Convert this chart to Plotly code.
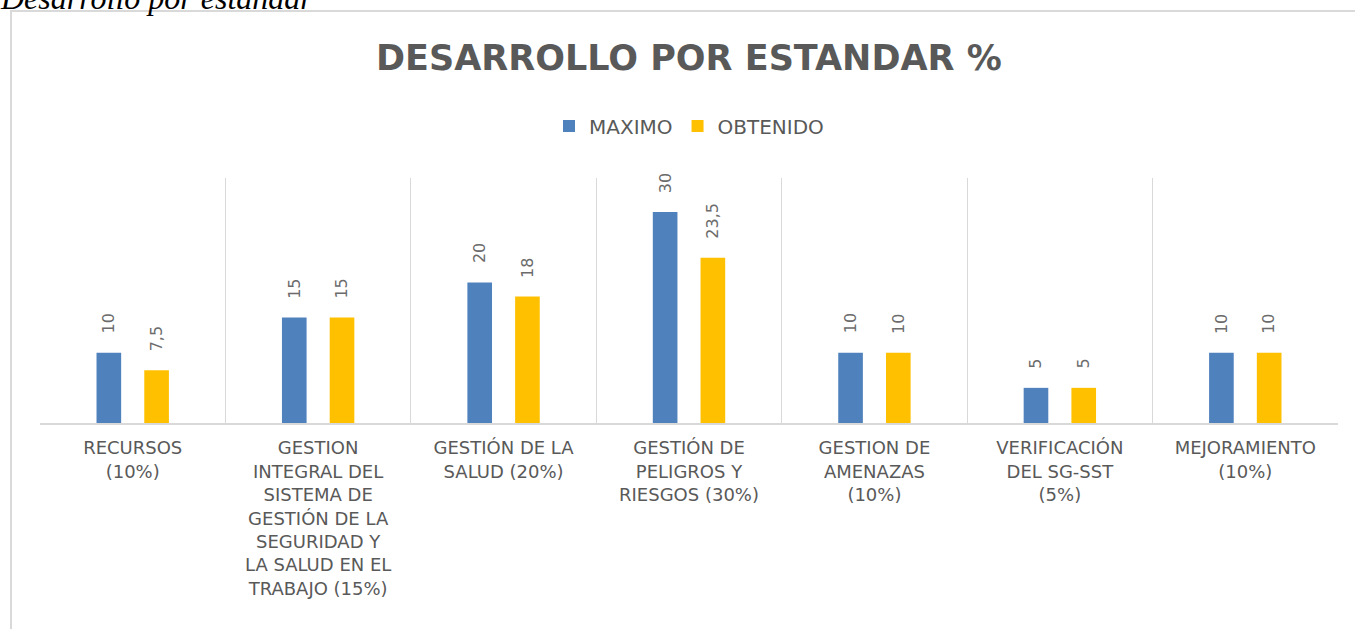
import plotly.graph_objects as go

categories = [
    "RECURSOS<br>(10%)",
    "GESTION<br>INTEGRAL DEL<br>SISTEMA DE<br>GESTIÓN DE LA<br>SEGURIDAD Y<br>LA SALUD EN EL<br>TRABAJO (15%)",
    "GESTIÓN DE LA<br>SALUD (20%)",
    "GESTIÓN DE<br>PELIGROS Y<br>RIESGOS (30%)",
    "GESTION DE<br>AMENAZAS<br>(10%)",
    "VERIFICACIÓN<br>DEL SG-SST<br>(5%)",
    "MEJORAMIENTO<br>(10%)",
]
maximo = [10, 15, 20, 30, 10, 5, 10]
obtenido = [7.5, 15, 18, 23.5, 10, 5, 10]
series_names = ["MAXIMO", "OBTENIDO"]
title_text = "DESARROLLO POR ESTANDAR %"
caption_text = "Desarrollo por estandar"

W, H = 1355, 629
PL, PR, PT, PB = 40, 1338, 178, 423
BARGAP = 0.485
BARGROUPGAP = 0.484
Y_MAX = 34.85


def px(x):
    return (x - PL) / (PR - PL)


def py(y):
    return (PB - y) / (PB - PT)


def fmt(v):
    return f"{v:g}".replace(".", ",")


colors = ["#4F81BD", "#FFC000"]
fig = go.Figure()
for name, vals, col in zip(series_names, [maximo, obtenido], colors):
    fig.add_trace(go.Bar(
        name=name, x=categories, y=vals,
        marker=dict(color=col, line=dict(width=0)),
        hoverinfo="skip",
    ))

# data labels (rotated, above each bar)
slot = (1 - BARGAP) / 2
annotations = []
for si, vals in enumerate([maximo, obtenido]):
    off = (si - 0.5) * slot
    for ci, v in enumerate(vals):
        annotations.append(dict(
            x=ci + off, y=v, xref="x", yref="y",
            text=fmt(v), showarrow=False, textangle=-90,
            xanchor="center", yanchor="bottom", yshift=17,
            font=dict(family="DejaVu Sans", size=16, color="#6b6b6b"),
        ))

# chart title
annotations.append(dict(
    x=0.5, y=py(58.5), xref="paper", yref="paper",
    text=f"<b>{title_text}</b>", showarrow=False,
    xanchor="center", yanchor="middle",
    font=dict(family="DejaVu Sans", size=35, color="#595959"),
))
# caption above frame (partially cut at the top of the page)
annotations.append(dict(
    x=px(-2), y=py(-2), xref="paper", yref="paper",
    text=caption_text, showarrow=False,
    xanchor="left", yanchor="middle",
    font=dict(family="Liberation Serif", size=32, color="#000000", style="italic"),
))

fig.update_layout(
    width=W, height=H,
    margin=dict(l=PL, r=W - PR, t=PT, b=H - PB, pad=0),
    paper_bgcolor="white", plot_bgcolor="white",
    barmode="group", bargap=BARGAP, bargroupgap=BARGROUPGAP,
    showlegend=True,
    legend=dict(
        orientation="h", x=0.5, xanchor="center", y=py(126), yanchor="middle",
        font=dict(family="DejaVu Sans", size=20, color="#595959"),
        itemclick=False, itemdoubleclick=False,
    ),
    annotations=annotations,
    shapes=[dict(
        type="rect", xref="paper", yref="paper",
        x0=px(11), x1=px(1400), y0=py(700), y1=py(11),
        line=dict(color="#D9D9D9", width=2), fillcolor="rgba(0,0,0,0)",
        layer="below",
    )],
    xaxis=dict(
        type="category", tickson="boundaries", showgrid=True,
        gridcolor="#D9D9D9", gridwidth=1,
        showline=True, linecolor="#D9D9D9", linewidth=1.5,
        ticks="", ticklabelstandoff=8,
        tickfont=dict(family="DejaVu Sans", size=18, color="#595959"),
        fixedrange=True,
    ),
    yaxis=dict(
        range=[0, Y_MAX], showgrid=False, zeroline=False,
        showticklabels=False, showline=False, ticks="", fixedrange=True,
    ),
)

fig.write_html(
    "out.html",
    config={"displayModeBar": False},
    post_script="document.body.style.margin='0';document.body.style.overflow='hidden';",
)
